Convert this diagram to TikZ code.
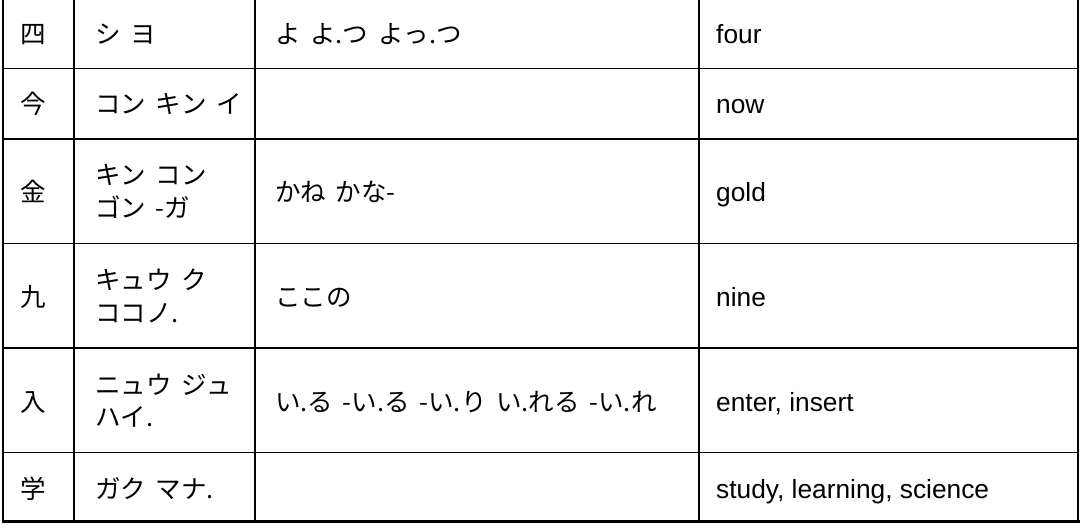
\documentclass[tikz,border=0pt]{standalone}
\usepackage{fontspec}
\setmainfont{Liberation Sans}
\newfontfamily\jp[Kerning=Off,WordSpace=1.7]{Noto Sans CJK JP}
\begin{document}
\begin{tikzpicture}[x=1pt,y=-1pt,
  thinrule/.style={line width=1.3pt,black},
  thickrule/.style={line width=2.2pt,black},
  kanji/.style={anchor=base,inner sep=0pt,font=\jp\fontsize{25.5}{33}\selectfont},
  jtext/.style={anchor=base west,inner sep=0pt,font=\jp\fontsize{25.5}{33}\selectfont},
  etext/.style={anchor=base west,inner sep=0pt,font=\fontsize{26.3}{33}\selectfont}]
\useasboundingbox (0,0) rectangle (1081,529);
% horizontal rules
\foreach \y in {68.5,139,243.5,348,452.5} \draw[thinrule] (3,\y) -- (1078,\y);
\draw[thickrule] (2,521.5) -- (1079.5,521.5);
% vertical rules
\draw[thickrule] (3,0) -- (3,522.5);
\draw[thickrule] (74,0) -- (74,522.5);
\draw[thickrule] (255,0) -- (255,522.5);
\draw[thickrule] (699,0) -- (699,522.5);
\draw[line width=2.8pt] (1078,0) -- (1078,522.5);
% row 1
\node[kanji] (k1) at (33.5,44) {四};
\node[jtext] (on1) at (95,44) {シ ヨ};
\node[jtext] (kun1) at (275,44) {よ よ.つ よっ.つ};
\node[etext] (en1) at (716,44) {four};
% row 2
\node[kanji] (k2) at (33.5,114) {今};
\node[jtext] (on2) at (95,114) {コン キン イ};
\node[etext] (en2) at (716,114) {now};
% row 3
\node[kanji] (k3) at (33.5,202) {金};
\node[jtext] (on3a) at (95,185) {キン コン};
\node[jtext] (on3b) at (95,218) {ゴン -ガ};
\node[jtext] (kun3) at (275,202) {かね かな-};
\node[etext] (en3) at (716,202) {gold};
% row 4
\node[kanji] (k4) at (33.5,306) {九};
\node[jtext] (on4a) at (95,289) {キュウ ク};
\node[jtext] (on4b) at (95,322) {ココノ.};
\node[jtext] (kun4) at (275,306) {ここの};
\node[etext] (en4) at (716,306) {nine};
% row 5
\node[kanji] (k5) at (33.5,411) {入};
\node[jtext] (on5a) at (95,394) {ニュウ ジュ};
\node[jtext] (on5b) at (95,426) {ハイ.};
\node[jtext] (kun5) at (275,411) {い.る -い.る -い.り い.れる -い.れ};
\node[etext] (en5) at (716,411) {enter, insert};
% row 6
\node[kanji] (k6) at (33.5,498) {学};
\node[jtext] (on6) at (95,498) {ガク マナ.};
\node[etext] (en6) at (716,498) {study, learning, science};
\end{tikzpicture}
\end{document}
